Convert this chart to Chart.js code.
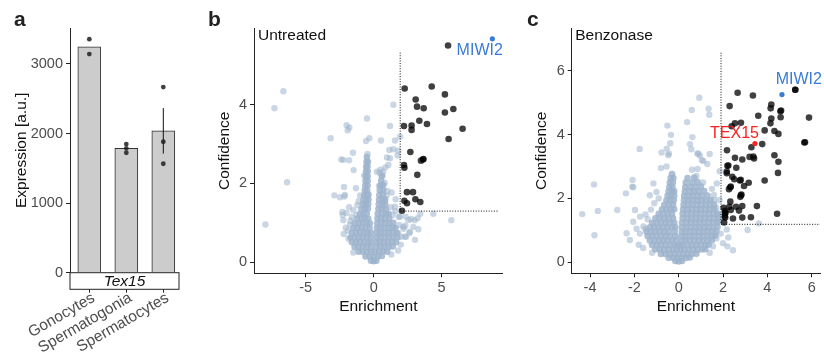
<!DOCTYPE html>
<html><head><meta charset="utf-8">
<script src="https://cdn.jsdelivr.net/npm/chart.js@4/dist/chart.umd.min.js"></script>
<style>
html,body{margin:0;padding:0;background:#fff}
body{width:824px;height:359px;position:relative;overflow:hidden}
canvas{position:absolute;top:0}
</style></head>
<body>
<canvas id="ca" width="200" height="359" style="left:0"></canvas>
<canvas id="cb" width="310" height="359" style="left:200px"></canvas>
<canvas id="cc" width="314" height="359" style="left:510px"></canvas>
<script>
// ---------- Panel a data ----------
const aCategories = ['Gonocytes','Spermatogonia','Spermatocytes'];
const aMeans = [3247, 1787, 2040];
const aReplicates = [[3356, 3142], [1849, 1787, 1724], [2668, 1882, 1566]];
const aErrLow = [null, null, 1712];
const aErrHigh = [null, null, 2366];
const aTicksY = [0, 1000, 2000, 3000];
const aGene = 'Tex15';

// ---------- Panel b data (Untreated) ----------
const bTicksX = [-5, 0, 5];
const bTicksY = [0, 2, 4];
const bThreshold = [[1.95, 5.32], [1.95, 1.3], [9.16, 1.3]];
const bMiwi2 = [[8.73, 5.67]];
const bDark = [[5.47,5.5],[2.28,4.41],[4.27,4.46],[5.24,4.26],[3.09,4.13],[3.19,3.95],[3.68,3.91],[5.24,3.8],[5.86,3.89],[3.36,3.59],[3.92,3.51],[2.23,3.46],[2.79,3.47],[2.79,3.36],[6.54,3.39],[5.51,3.13],[2.7,2.8],[3.63,2.61],[3.66,2.62],[3.48,2.58],[2.23,2.47],[2.26,2.4],[3.21,2.22],[2.45,1.78],[2.89,1.78],[2.26,1.56],[2.45,1.5],[3.07,1.6],[3.43,1.53],[2.08,1.31]];
const bCore = [
[-0.2,0.04],[0,0.03],[0.2,0.04],
[-0.6,0.15],[-0.3,0.15],[0,0.14],[0.3,0.15],[0.6,0.16],
[-1.1,0.27],[-0.8,0.27],[-0.5,0.26],[-0.2,0.27],[0.1,0.27],[0.4,0.27],[0.7,0.28],[1.0,0.27],
[-1.4,0.39],[-1.1,0.39],[-0.8,0.4],[-0.5,0.39],[-0.2,0.39],[0.2,0.39],[0.5,0.4],[0.8,0.39],[1.1,0.39],[1.4,0.4],
[-1.6,0.51],[-1.3,0.51],[-1.0,0.52],[-0.7,0.51],[-0.4,0.51],[-0.18,0.51],[0.2,0.51],[0.45,0.52],[0.75,0.51],[1.05,0.51],[1.35,0.52],[1.65,0.51],
[-1.7,0.63],[-1.4,0.63],[-1.1,0.64],[-0.8,0.63],[-0.5,0.63],[-0.2,0.63],[0.22,0.63],[0.5,0.64],[0.8,0.63],[1.1,0.63],[1.4,0.64],[1.75,0.63],
[-1.6,0.75],[-1.3,0.75],[-1.0,0.76],[-0.7,0.75],[-0.45,0.75],[-0.2,0.75],[0.22,0.75],[0.5,0.76],[0.8,0.75],[1.1,0.75],[1.4,0.76],[1.7,0.75],
[-1.5,0.87],[-1.2,0.87],[-0.9,0.88],[-0.6,0.87],[-0.3,0.87],[0.24,0.87],[0.5,0.88],[0.8,0.87],[1.1,0.87],[1.4,0.88],[1.6,0.87],
[-1.4,0.99],[-1.1,0.99],[-0.8,1.0],[-0.5,0.99],[-0.28,0.99],[0.26,0.99],[0.55,1.0],[0.85,0.99],[1.15,0.99],[1.45,1.0],
[-1.2,1.11],[-0.9,1.11],[-0.65,1.12],[-0.4,1.11],[0.28,1.11],[0.55,1.12],[0.85,1.11],[1.15,1.11],
[-1.0,1.23],[-0.75,1.23],[-0.5,1.24],[0.3,1.23],[0.6,1.24],[0.9,1.23],[1.1,1.23],
[-0.9,1.35],[-0.65,1.35],[-0.42,1.36],[0.35,1.35],[0.62,1.36],[0.9,1.35],
[-0.8,1.47],[-0.58,1.47],[-0.4,1.48],[0.38,1.47],[0.65,1.48],[0.85,1.47],
[-0.75,1.59],[-0.55,1.59],[-0.38,1.6],[0.4,1.59],[0.65,1.6],[0.85,1.59],
[-0.7,1.71],[-0.5,1.71],[-0.38,1.72],[0.42,1.71],[0.68,1.72],
[-0.65,1.83],[-0.48,1.83],[0.45,1.83],[0.7,1.84],
[-0.62,1.95],[-0.45,1.95],[0.5,1.95],[0.7,1.96],
[-0.6,2.07],[-0.44,2.07],[0.55,2.07],
[-0.58,2.19],[-0.44,2.19],[0.6,2.19],
[-0.56,2.31],[-0.44,2.31],
[-0.55,2.43],[-0.45,2.43],
[-0.52,2.55],[-0.42,2.55],
[-0.5,2.67]
];
const bLight = [
[-1.9,0.8],[-2.2,0.72],[2.0,0.65],[2.2,0.85],[1.9,0.95],[-1.75,0.95],[1.4,1.2],[1.6,1.3],[-1.6,1.15],[-1.5,1.32],[-2.0,1.25],[1.85,1.15],[-1.8,1.4],[0.8,1.55],[-1.0,1.7],[-1.1,1.55],[0.95,1.7],[0.65,2.2],[0.7,2.3],[-0.7,2.2],[0.5,2.35],[-1.25,1.2],[-1.2,1.45],[1.25,1.4],[-0.45,2.75],
[-6.64,4.34],[-7.30,3.91],[-6.37,2.03],[-7.96,0.96],[1.45,4.0],[-0.49,3.65],[-1.79,3.42],[-1.91,3.35],[-3.16,3.15],[-0.56,3.08],[-0.32,3.15],[0.54,3.09],[1.57,3.09],[1.15,2.85],[1.45,2.87],[1.81,2.83],[-1.52,2.78],[-2.38,2.61],[-1.81,2.59],[0.98,2.66],[1.76,2.71],[-1.47,2.34],[0.86,2.41],[0.24,2.30],[0.44,2.27],[-2.18,1.91],[-2.89,1.70],[-2.48,1.65],[-2.16,1.67],[-1.30,1.88],[0.39,1.94],[0.81,2.02],[1.0,1.81],[1.32,1.77],[1.62,1.6],[-2.30,1.28],[-2.28,1.20],[-2.06,0.88],[4.39,1.23],[5.71,1.07],[3.43,1.23],[3.23,1.12],[3.01,1.07],[2.74,1.1],[2.35,1.16],[2.33,0.93],[2.18,0.9],[2.92,0.9],[3.29,0.84],[2.62,0.74],[2.38,0.65],[1.81,0.74],
[1.2,3.46],[1.94,3.19],[1.2,2.64],[1.08,2.47],[1.57,1.41],[1.94,1.16],[2.55,1.07],[3.04,0.57],[2.67,0.78],[2.30,0.65],[-1.99,3.48],[-2.23,2.6],[-2.11,1.71],[-2.23,1.07],[-1.7,1.05],[-1.85,0.6],[2.0,0.45],[1.8,0.3],[-1.5,0.25],[1.3,0.2]
];

// ---------- Panel c data (Benzonase) ----------
const cTicksX = [-4, -2, 0, 2, 4, 6];
const cTicksY = [0, 2, 4, 6];
const cThreshold = [[1.91, 6.56], [1.91, 1.19], [6.376, 1.19]];
const cMiwi2 = [[4.66, 5.25]];
const cTex15 = [[3.44, 3.72]];
const cDark = [[5.26,5.40],[5.26,5.40],[2.66,5.31],[3.35,5.22],[2.30,4.89],[4.18,4.94],[4.15,4.82],[4.59,4.73],[4.62,4.75],[3.59,4.59],[4.18,4.50],[4.60,4.54],[5.88,4.53],[2.54,4.35],[2.81,4.37],[4.14,4.35],[3.88,4.13],[4.32,4.11],[2.39,4.26],[4.50,4.02],[3.77,3.70],[3.28,3.60],[5.70,3.76],[5.67,3.75],[2.18,3.51],[3.37,3.31],[3.40,3.25],[3.20,3.30],[2.54,3.27],[2.87,3.22],[4.32,3.35],[4.50,3.15],[2.20,3.02],[2.24,3.03],[2.60,2.96],[2.17,2.84],[2.17,2.79],[4.48,2.80],[2.42,2.68],[2.51,2.60],[2.80,2.58],[2.76,2.56],[3.88,2.56],[3.16,2.49],[2.95,2.39],[2.35,2.37],[2.33,2.35],[2.27,2.29],[2.81,2.10],[2.83,2.12],[2.78,2.05],[2.33,1.90],[2.03,1.71],[2.59,1.74],[2.87,1.76],[3.53,1.76],[2.35,1.64],[2.72,1.62],[2.09,1.53],[2.11,1.55],[2.08,1.44],[2.45,1.37],[3.26,1.41],[4.44,1.52],[2.87,1.40],[2.29,1.74],[2.09,1.61],[2.10,1.40],[2.05,1.25]];
const cCore = [
[-0.15,0.04],[0,0.03],[0.15,0.04],
[-0.45,0.14],[-0.25,0.14],[-0.05,0.14],[0.15,0.14],[0.35,0.14],[0.5,0.15],
[-0.8,0.26],[-0.6,0.26],[-0.4,0.26],[-0.2,0.26],[0,0.26],[0.2,0.26],[0.4,0.26],[0.6,0.26],[0.8,0.27],
[-1.05,0.4],[-0.85,0.4],[-0.65,0.4],[-0.45,0.4],[-0.25,0.4],[-0.08,0.4],[0.08,0.4],[0.25,0.4],[0.45,0.4],[0.65,0.4],[0.85,0.4],[1.05,0.4],[1.2,0.41],
[-1.2,0.54],[-1.0,0.54],[-0.8,0.54],[-0.6,0.54],[-0.4,0.54],[-0.2,0.54],[-0.07,0.54],[0.07,0.54],[0.2,0.54],[0.4,0.54],[0.6,0.54],[0.8,0.54],[1.0,0.54],[1.2,0.54],[1.35,0.55],
[-1.3,0.68],[-1.1,0.68],[-0.9,0.68],[-0.7,0.68],[-0.5,0.68],[-0.3,0.68],[-0.12,0.68],[0.12,0.68],[0.3,0.68],[0.5,0.68],[0.7,0.68],[0.9,0.68],[1.1,0.68],[1.3,0.68],[1.5,0.69],
[-1.4,0.82],[-1.2,0.82],[-1.0,0.82],[-0.8,0.82],[-0.6,0.82],[-0.4,0.82],[-0.15,0.82],[0.12,0.82],[0.3,0.82],[0.5,0.82],[0.7,0.82],[0.9,0.82],[1.1,0.82],[1.3,0.82],[1.5,0.82],[1.65,0.83],
[-1.45,0.96],[-1.25,0.96],[-1.05,0.96],[-0.85,0.96],[-0.65,0.96],[-0.45,0.96],[-0.18,0.96],[0.14,0.96],[0.32,0.96],[0.52,0.96],[0.72,0.96],[0.92,0.96],[1.12,0.96],[1.32,0.96],[1.52,0.96],[1.7,0.97],
[-1.3,1.1],[-1.1,1.1],[-0.9,1.1],[-0.7,1.1],[-0.5,1.1],[-0.3,1.1],[-0.15,1.1],[0.15,1.1],[0.35,1.1],[0.55,1.1],[0.75,1.1],[0.95,1.1],[1.15,1.1],[1.35,1.1],[1.55,1.1],[1.75,1.11],
[-1.2,1.24],[-1.0,1.24],[-0.8,1.24],[-0.6,1.24],[-0.4,1.24],[-0.2,1.24],[0.15,1.24],[0.35,1.24],[0.55,1.24],[0.75,1.24],[0.95,1.24],[1.15,1.24],[1.35,1.24],[1.55,1.24],[1.75,1.25],
[-1.05,1.38],[-0.85,1.38],[-0.65,1.38],[-0.45,1.38],[-0.25,1.38],[0.18,1.38],[0.38,1.38],[0.58,1.38],[0.78,1.38],[0.98,1.38],[1.18,1.38],[1.38,1.38],[1.58,1.38],[1.78,1.39],
[-0.9,1.52],[-0.7,1.52],[-0.5,1.52],[-0.3,1.52],[0.18,1.52],[0.38,1.52],[0.58,1.52],[0.78,1.52],[0.98,1.52],[1.18,1.52],[1.38,1.52],[1.58,1.52],[1.75,1.53],
[-0.75,1.66],[-0.55,1.66],[-0.35,1.66],[-0.2,1.66],[0.2,1.66],[0.4,1.66],[0.6,1.66],[0.8,1.66],[1.0,1.66],[1.2,1.66],[1.4,1.66],[1.6,1.67],
[-0.65,1.8],[-0.45,1.8],[-0.25,1.8],[0.22,1.8],[0.42,1.8],[0.62,1.8],[0.82,1.8],[1.02,1.8],[1.22,1.8],[1.42,1.8],[1.6,1.81],
[-0.55,1.94],[-0.38,1.94],[-0.22,1.94],[0.24,1.94],[0.44,1.94],[0.64,1.94],[0.84,1.94],[1.04,1.94],[1.24,1.94],[1.44,1.95],
[-0.5,2.08],[-0.35,2.08],[-0.2,2.08],[0.25,2.08],[0.45,2.08],[0.65,2.08],[0.85,2.08],[1.05,2.08],[1.3,2.09],
[-0.45,2.22],[-0.3,2.22],[-0.2,2.22],[0.28,2.22],[0.5,2.22],[0.7,2.22],[0.9,2.22],[1.15,2.23],
[-0.42,2.36],[-0.28,2.36],[0.3,2.36],[0.52,2.36],[0.75,2.36],[1.0,2.37],
[-0.4,2.5],[-0.26,2.5],[0.32,2.5],[0.6,2.5],[0.85,2.51],
[-0.36,2.64],[-0.24,2.64],[0.4,2.64],[0.7,2.65],
[-0.3,2.76]
];
const cLight = [
[-1.6,0.45],[1.7,0.75],[-1.75,0.9],[-1.9,1.05],[1.9,0.9],[-1.5,1.05],[-1.5,1.5],[-1.25,1.65],[1.7,1.7],[-0.9,2.0],[-1.1,1.85],[1.6,1.95],[1.5,2.3],[1.1,2.5],[0.8,2.7],[-1.4,1.35],[1.55,0.5],
[-4.35,1.51],[-3.82,2.44],[-3.65,1.61],[-3.80,0.85],[-2.77,1.64],[-2.38,2.16],[-2.35,0.91],[-2.08,2.58],[-2.05,2.35],[-1.76,3.55],[0.93,5.15],[0.59,4.77],[0.38,4.39],[1.35,4.81],[1.38,4.62],[-0.51,4.28],[-0.35,3.99],[-0.38,3.73],[0.62,3.92],[0.51,3.70],[0.57,3.54],[-0.54,3.56],[-0.47,3.35],[0.89,3.40],[0.96,3.34],[1.40,3.39],[1.11,3.17],[2.45,0.38],[3.11,1.01],[2.17,1.03],[2.24,0.78],[3.62,1.22],
[-0.77,3.44],[-0.44,3.41],[0.84,3.41],[1.04,3.20],[1.29,3.08],[-0.8,2.95],[-0.55,3.0],[0.6,2.9],[0.85,2.92],[-1.14,2.47],[-1.3,2.1],[-1.0,2.2],[-1.97,1.64],[-1.74,1.43],[-2.05,1.27],[-1.59,1.12],[-2.09,2.37],[1.59,2.11],[1.84,1.95],[1.72,2.47],[1.85,2.85],[1.8,1.5],[1.85,1.3],[2.0,0.6],[2.2,0.5],[-1.2,0.3],[1.4,0.3],[-2.2,0.7],[-1.8,0.55]
];

// ---------- helpers ----------
const FONT = "'Liberation Sans', Arial, Helvetica, sans-serif";
Chart.defaults.font.family = FONT;
Chart.defaults.animation = false;
const pts = arr => arr.map(p => ({x: p[0], y: p[1]}));
const fixTicks = vals => (s => { s.ticks = vals.map(v => ({value: v})); });
const LIGHT = 'rgba(158,180,204,0.55)';
const CORE = 'rgba(158,180,204,0.85)';
const DARK = 'rgba(0,0,0,0.75)';
const TICKC = '#4d4d4d';
const LINEC = '#222';

function letterPlugin(letter, x) {
  return { id: 'letter' + letter, afterDraw(chart) {
    const ctx = chart.ctx; ctx.save();
    ctx.font = 'bold 21px ' + FONT; ctx.fillStyle = '#222';
    ctx.textBaseline = 'alphabetic'; ctx.textAlign = 'left';
    ctx.fillText(letter, x, 26); ctx.restore();
  }};
}
function labelPlugin(items) {
  return { id: 'labels', afterDatasetsDraw(chart) {
    const ctx = chart.ctx, xs = chart.scales.x, ys = chart.scales.y;
    ctx.save();
    items.forEach(it => {
      ctx.font = it.font + ' ' + FONT; ctx.fillStyle = it.color;
      ctx.textAlign = it.align; ctx.textBaseline = 'middle';
      const px = it.px !== undefined ? chart.chartArea.left + it.px : xs.getPixelForValue(it.x);
      const py = it.py !== undefined ? chart.chartArea.top + it.py : ys.getPixelForValue(it.y);
      ctx.fillText(it.text, px, py);
    });
    ctx.restore();
  }};
}
const noInteract = { legend: {display: false}, tooltip: {enabled: false} };

// ---------- Panel a ----------
const STRIP_H = 16.6;
const stripPlugin = { id: 'strip', afterDraw(chart) {
  const ctx = chart.ctx, a = chart.chartArea, xs = chart.scales.x;
  ctx.save();
  ctx.fillStyle = '#fff'; ctx.strokeStyle = LINEC; ctx.lineWidth = 1;
  ctx.fillRect(a.left, a.bottom, a.right - a.left, STRIP_H);
  ctx.strokeRect(a.left, a.bottom, a.right - a.left, STRIP_H);
  ctx.fillStyle = '#111'; ctx.font = 'italic 15.5px ' + FONT;
  ctx.textAlign = 'center'; ctx.textBaseline = 'middle';
  ctx.fillText(aGene, (a.left + a.right) / 2, a.bottom + 8.8);
  // rotated category labels (ggplot style: angle 30, hjust 1, vjust 1)
  ctx.fillStyle = TICKC; ctx.font = '15.5px ' + FONT;
  ctx.textAlign = 'right'; ctx.textBaseline = 'top';
  xs.ticks.forEach(t => {
    ctx.save();
    ctx.translate(xs.getPixelForValue(t.value) + 0.5, a.bottom + STRIP_H + 0.8);
    ctx.rotate(-Math.PI / 6);
    ctx.fillText(aCategories[t.value - 1], 0, 0);
    ctx.restore();
  });
  ctx.restore();
}};
const aRepPoints = [];
aReplicates.forEach((vals, i) => vals.forEach(v => aRepPoints.push({x: i + 1, y: v})));
const aErr = [];
aErrLow.forEach((lo, i) => { if (lo !== null) { aErr.push({x: i + 1, y: lo}, {x: i + 1, y: aErrHigh[i]}); } });

new Chart(document.getElementById('ca'), {
  type: 'bar',
  data: { datasets: [
    { type: 'bar', data: aMeans.map((v, i) => ({x: i + 1, y: v})), backgroundColor: '#cccccc',
      borderColor: '#333', borderWidth: 1, barThickness: 23, order: 3 },
    { type: 'line', data: aErr, borderColor: '#111', borderWidth: 1, pointRadius: 0, order: 2 },
    { type: 'scatter', data: aRepPoints, backgroundColor: 'rgba(30,30,30,0.85)', borderWidth: 0, pointRadius: 2.4, order: 1 }
  ]},
  options: {
    responsive: false, events: [],
    layout: { padding: { left: 0, top: 28, right: 21, bottom: 0 } },
    plugins: noInteract,
    scales: {
      x: { type: 'linear', offset: false, min: 0.478, max: 3.424, afterBuildTicks: fixTicks([1, 2, 3]),
        afterFit: s => { s.height = 86.3; },
        border: { display: false },
        grid: { offset: false, drawOnChartArea: false, drawTicks: true, tickLength: 20, color: LINEC },
        ticks: { color: 'rgba(0,0,0,0)', autoSkip: false, maxRotation: 0, font: { size: 1 }, callback: () => '' } },
      y: { type: 'linear', min: 0, max: 3517, afterBuildTicks: fixTicks(aTicksY),
        afterFit: s => { s.width = 70; },
        border: { display: true, color: LINEC, width: 1 },
        grid: { drawOnChartArea: false, drawTicks: true, tickLength: 4, color: LINEC },
        ticks: { padding: 3, color: TICKC, font: { size: 14.5 }, callback: v => String(v) },
        title: { display: true, text: 'Expression [a.u.]', color: '#111', font: { size: 15.5 }, padding: { top: 12.7, bottom: 0 } } }
    }
  },
  plugins: [stripPlugin, letterPlugin('a', 14)]
});

// ---------- volcano factory ----------
function volcano(id, cfg) {
  const ds = [
    { data: pts(cfg.core), backgroundColor: CORE, borderWidth: 0, pointRadius: 3.3, order: 6 },
    { data: pts(cfg.light), backgroundColor: LIGHT, borderWidth: 0, pointRadius: 3.2, order: 5 },
    { type: 'line', data: pts(cfg.thresh), showLine: true, borderColor: '#111', borderWidth: 1,
      borderDash: [1, 1.6], pointRadius: 0, fill: false, order: 4 },
    { data: pts(cfg.dark), backgroundColor: DARK, borderWidth: 0, pointRadius: 3.3, order: 3 },
    { data: pts(cfg.miwi), backgroundColor: '#3a7bd5', borderWidth: 0, pointRadius: 2.6, order: 2 }
  ];
  if (cfg.tex) ds.push({ data: pts(cfg.tex), backgroundColor: '#ff1f1f', borderWidth: 0, pointRadius: 2.6, order: 1 });
  new Chart(document.getElementById(id), {
    type: 'scatter',
    data: { datasets: ds },
    options: {
      responsive: false, events: [],
      layout: { padding: { left: 0, top: 28.3, right: cfg.padRight, bottom: 0 } },
      plugins: noInteract,
      scales: {
        x: { type: 'linear', min: cfg.xmin, max: cfg.xmax, afterBuildTicks: fixTicks(cfg.ticksX),
          afterFit: s => { s.height = 85.7; },
          border: { display: true, color: LINEC, width: 1 },
          grid: { drawOnChartArea: false, drawTicks: true, tickLength: 4, color: LINEC },
          ticks: { padding: 2, color: TICKC, font: { size: 14.5 }, maxRotation: 0, autoSkip: false },
          title: { display: true, text: 'Enrichment', color: '#111', font: { size: 15.5 }, padding: { top: 0, bottom: 43 } } },
        y: { type: 'linear', min: cfg.ymin, max: cfg.ymax, afterBuildTicks: fixTicks(cfg.ticksY),
          afterFit: s => { s.width = cfg.yWidth; },
          border: { display: true, color: LINEC, width: 1 },
          grid: { drawOnChartArea: false, drawTicks: true, tickLength: 4, color: LINEC },
          ticks: { padding: 3, color: TICKC, font: { size: 14.5 } },
          title: { display: true, text: 'Confidence', color: '#111', font: { size: 15.5 }, padding: { top: cfg.titlePad, bottom: 0 } } }
      }
    },
    plugins: [labelPlugin(cfg.labels), letterPlugin(cfg.letter, cfg.letterX)]
  });
}

volcano('cb', {
  core: bCore, light: bLight, dark: bDark, miwi: bMiwi2, thresh: bThreshold,
  xmin: -8.80, xmax: 9.49, ymin: -0.278, ymax: 5.937, ticksX: bTicksX, ticksY: bTicksY,
  yWidth: 54, padRight: 7.3, titlePad: 15.4, letter: 'b', letterX: 8,
  labels: [
    { text: 'Untreated', px: 4, py: 7, align: 'left', color: '#111', font: '15.5px' },
    { text: 'MIWI2', x: 7.80, y: 5.37, align: 'center', color: '#3a7bd5', font: '16px' }
  ]
});
volcano('cc', {
  core: cCore, light: cLight, dark: cDark, miwi: cMiwi2, tex: cTex15, thresh: cThreshold,
  xmin: -4.826, xmax: 6.376, ymin: -0.343, ymax: 7.325, ticksX: cTicksX, ticksY: cTicksY,
  yWidth: 61.7, padRight: 4, titlePad: 22.4, letter: 'c', letterX: 17,
  labels: [
    { text: 'Benzonase', px: 3.5, py: 7, align: 'left', color: '#111', font: '15.5px' },
    { text: 'MIWI2', x: 5.42, y: 5.71, align: 'center', color: '#3a7bd5', font: '16px' },
    { text: 'TEX15', x: 2.52, y: 4.04, align: 'center', color: '#ff1f1f', font: '16px' }
  ]
});
</script>
</body></html>
